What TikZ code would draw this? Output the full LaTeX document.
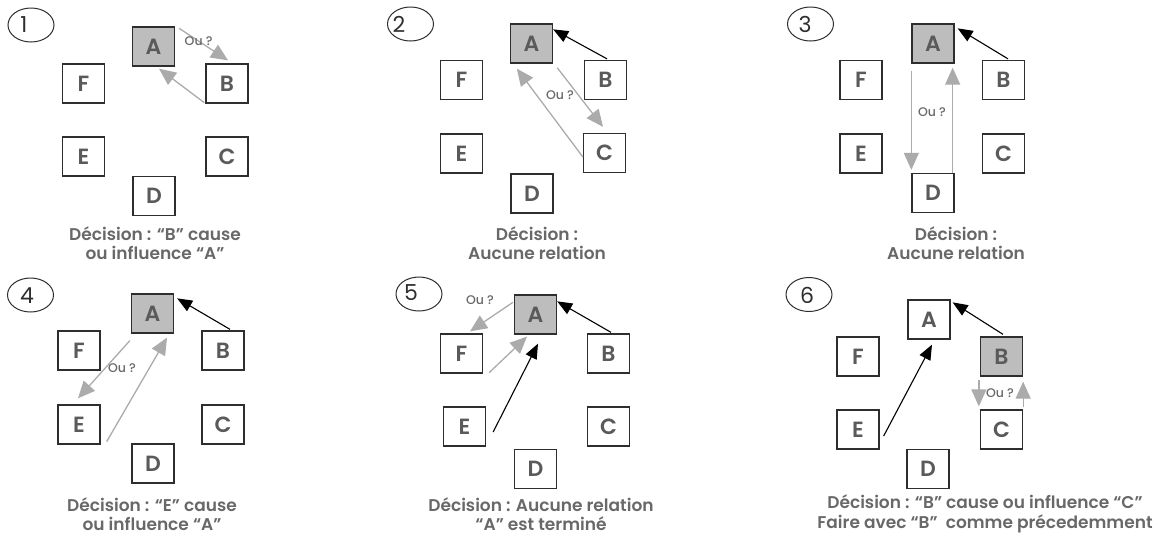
\documentclass[tikz,border=0pt]{standalone}
\usepackage{fontspec}
\setmainfont{Poppins SemiBold}
\newfontfamily\numfont{Poppins}
\newfontfamily\askfont{Poppins Medium}
\usetikzlibrary{arrows.meta,shapes.geometric}
\definecolor{boxline}{HTML}{2E2E2E}
\definecolor{boxfill}{HTML}{BDBDBD}
\definecolor{lettercol}{HTML}{5A5A5A}
\definecolor{textcol}{HTML}{686868}
\definecolor{altline}{HTML}{ABABAB}
\tikzset{
  item/.style={draw=boxline, line width=1.3pt, minimum width=42pt, minimum height=39pt,
    inner sep=0pt, text=lettercol, font=\fontsize{22}{22}\selectfont, fill=white},
  current/.style={item, fill=boxfill},
  link/.style={draw=black, line width=1.1pt, -{Triangle[length=15pt,width=12pt]}},
  alt/.style={draw=altline, line width=1.3pt, -{Triangle[length=17pt,width=15pt]}},
  ask/.style={text=textcol, font=\askfont\fontsize{12.5}{13}\selectfont, inner sep=0pt},
  ring/.style={draw=boxline, line width=1pt, ellipse, minimum width=46pt, minimum height=34pt, inner sep=0pt},
  ringnum/.style={text=boxline, font=\numfont\fontsize{22}{22}\selectfont, inner sep=0pt},
  caption/.style={text=textcol, align=center, font=\fontsize{17}{19.5}\selectfont, inner sep=0pt}
}
\begin{document}
\begin{tikzpicture}[x=1pt, y=-1pt]
\useasboundingbox (0,0) rectangle (1170,539);

% ---------- step 1 ----------
\node[ring] (r1) at (31,25) {};
\node[ringnum] (n1) at (24,25) {1};
\node[current] (p1A) at (153.5,46.5) {A};
\node[item] (p1F) at (83.5,83.5) {F};
\node[item] (p1B) at (227,83.5) {B};
\node[item] (p1E) at (83.5,156.5) {E};
\node[item] (p1C) at (227,156.5) {C};
\node[item] (p1D) at (154,196) {D};
\draw[alt] ([shift={(4,2)}]p1A.north east) -- node[ask, pos=0.4] {Ou ?} ([shift={(1,-3)}]p1B.north);
\draw[alt] ([shift={(-1,-1)}]p1B.south west) -- ([shift={(5.5,2)}]p1A.south);
\node[caption] (t1) at (155,243) {Décision : “B” cause\\ou influence “A”};

% ---------- step 2 ----------
\node[ring] (r2) at (410.5,24) {};
\node[ringnum] (n2) at (399,24) {2};
\node[current] (p2A) at (531.5,43.5) {A};
\node[item] (p2F) at (461.5,80) {F};
\node[item] (p2B) at (605.5,80) {B};
\node[item] (p2E) at (461.5,153.5) {E};
\node[item] (p2C) at (604.5,153) {C};
\node[item] (p2D) at (532,193.5) {D};
\draw[link] ([shift={(1.5,-1)}]p2B.north) -- ([shift={(0,6)}]p2A.north east);
\draw[alt] ([shift={(4,4)}]p2A.south east) -- ([shift={(-1.5,-6)}]p2C.north);
\draw[alt] ([shift={(0,4)}]p2C.west) -- ([shift={(7,5)}]p2A.south west);
\node[ask] (o2) at (560,95) {Ou ?};
\node[caption] (t2) at (537,243) {Décision :\\Aucune relation};

% ---------- step 3 ----------
\node[ring] (r3) at (810.5,24) {};
\node[ringnum] (n3) at (805,24) {3};
\node[current] (p3A) at (933,43.5) {A};
\node[item] (p3F) at (861,80) {F};
\node[item] (p3B) at (1003.5,80) {B};
\node[item] (p3E) at (861,153.5) {E};
\node[item] (p3C) at (1003.5,153.5) {C};
\node[item] (p3D) at (933,193) {D};
\draw[link] ([shift={(4.5,-1)}]p3B.north) -- ([shift={(3,5)}]p3A.north east);
\draw[alt] ([shift={(0,7)}]p3A.south west) -- ([shift={(0,-3)}]p3D.north west);
\draw[alt] ([shift={(-2,0)}]p3D.north east) -- ([shift={(-2,4)}]p3A.south east);
\node[ask] (o3) at (932,112) {Ou ?};
\node[caption] (t3) at (956,243) {Décision :\\Aucune relation};

% ---------- step 4 ----------
\node[ring] (r4) at (30.5,295) {};
\node[ringnum] (n4) at (27,296) {4};
\node[current] (p4A) at (152.5,313.5) {A};
\node[item] (p4F) at (79,350.5) {F};
\node[item] (p4B) at (223,350.5) {B};
\node[item] (p4E) at (79,424.5) {E};
\node[item] (p4C) at (223,424.5) {C};
\node[item] (p4D) at (153,463.5) {D};
\draw[link] ([shift={(7,-1)}]p4B.north) -- ([shift={(3,5)}]p4A.north east);
\draw[alt] ([shift={(-1,7)}]p4A.south west) -- ([shift={(-1,-6)}]p4E.north);
\draw[alt] ([shift={(6,-3)}]p4E.south east) -- ([shift={(14.5,4)}]p4A.south);
\node[ask] (o4) at (122,368) {Ou ?};
\node[caption] (t4) at (152,514) {Décision : “E” cause\\ou influence “A”};

% ---------- step 5 ----------
\node[ring] (r5) at (419,294) {};
\node[ringnum] (n5) at (411,293) {5};
\node[current] (p5A) at (535.5,314.5) {A};
\node[item] (p5F) at (461.5,353.5) {F};
\node[item] (p5B) at (608.5,353.5) {B};
\node[item] (p5E) at (464.5,426.5) {E};
\node[item] (p5C) at (608.5,426.5) {C};
\node[item] (p5D) at (535.5,469) {D};
\draw[link] ([shift={(2.5,-1)}]p5B.north) -- ([shift={(0,7)}]p5A.north east);
\draw[alt] ([shift={(-1,8)}]p5A.north west) -- ([shift={(8.5,-2)}]p5F.north);
\node[ask] (o5) at (480,300) {Ou ?};
\draw[alt] ([shift={(6,-1)}]p5F.south east) -- ([shift={(-8.5,2)}]p5A.south);
\draw[link] ([shift={(7,5.5)}]p5E.east) -- ([shift={(2.5,9)}]p5A.south);
\node[caption] (t5) at (541,514) {Décision : Aucune relation\\“A” est terminé};

% ---------- step 6 ----------
\node[ring] (r6) at (809,294.5) {};
\node[ringnum] (n6) at (807,295) {6};
\node[item] (p6A) at (929,319.5) {A};
\node[item] (p6F) at (858,356.5) {F};
\node[current] (p6B) at (1001.5,356.5) {B};
\node[item] (p6E) at (858,429.5) {E};
\node[item] (p6C) at (1001.5,429.5) {C};
\node[item] (p6D) at (928,469) {D};
\draw[link] ([shift={(1.5,-2)}]p6B.north) -- ([shift={(2,3)}]p6A.north east);
\draw[link] ([shift={(4,6.5)}]p6E.east) -- ([shift={(3,5)}]p6A.south);
\draw[alt] ([shift={(-1,3)}]p6B.south west) -- ([shift={(-1,-3)}]p6C.north west);
\draw[alt] ([shift={(0,-2)}]p6C.north east) -- ([shift={(0,5)}]p6B.south east);
\node[ask] (o6) at (1000,393) {Ou ?};
\node[caption] (t6) at (985,514) {Décision : “B” cause ou influence “C”\\Faire avec “B”~ comme précedemment};

\end{tikzpicture}
\end{document}
